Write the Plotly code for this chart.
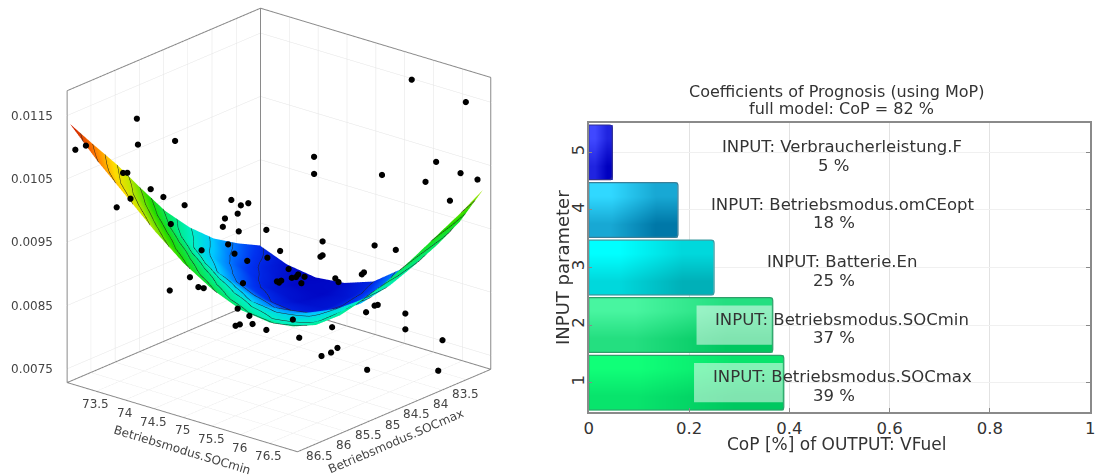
import plotly.graph_objects as go

# ---- surface ----
soc_min_grid = [73.03, 73.5, 74.0, 74.5, 75.0, 75.5, 76.0, 76.5, 76.9]
soc_max_grid = [83.05, 83.5, 84.0, 84.5, 85.0, 85.5, 86.0, 86.5, 86.97]
# units 1e-5; each row is one SOCmax value, columns follow SOCmin
vfuel_row_83 = [817, 800, 793, 798, 814, 848, 896, 950, 1011]
vfuel_row_835 = [835, 810, 796, 795, 805, 833, 877, 929, 990]
vfuel_row_84 = [859, 827, 807, 799, 803, 825, 862, 911, 970]
vfuel_row_845 = [893, 855, 828, 813, 809, 824, 854, 896, 950]
vfuel_row_85 = [935, 892, 860, 845, 835, 842, 862, 892, 932]
vfuel_row_855 = [987, 942, 905, 878, 860, 857, 866, 887, 918]
vfuel_row_86 = [1041, 993, 953, 920, 895, 881, 878, 888, 909]
vfuel_row_865 = [1090, 1042, 1001, 962, 930, 908, 896, 897, 910]
vfuel_row_87 = [1137, 1092, 1050, 1008, 971, 943, 924, 918, 923]

# ---- samples ----
pts_soc_min = [73.08,73.18,73.66,73.67,74.02,73.57,73.53,73.79,73.91,73.60,73.47,74.11,74.55,74.64,74.71,74.61,74.49,74.47,74.62,73.98,
               74.88,74.52,75.41,75.01,74.27,74.58,74.70,74.89,75.39,75.41,75.90,76.10,75.09,74.16,74.24,74.29,73.97,74.66,74.98,75.02,
               75.00,75.12,75.16,75.18,75.24,75.21,75.53,75.56,75.78,75.80,74.61,74.72,74.59,74.63,74.75,74.88,75.13,75.19,75.50,75.40,
               75.49,75.55,75.82,75.90,75.93,76.19,76.19,76.54,75.83,76.50,76.25,76.76,75.33,75.33,75.97,76.48,76.38,76.71,76.87,76.61]
pts_soc_max = [86.92,86.82,86.34,86.33,85.98,86.43,86.47,86.21,86.09,86.40,86.53,85.89,85.45,85.36,85.29,85.39,85.51,85.53,85.38,86.02,
               85.12,85.48,84.59,84.99,85.73,85.42,85.30,85.11,84.61,84.59,84.10,83.90,84.91,85.84,85.76,85.71,86.03,85.34,85.02,84.98,
               85.00,84.88,84.84,84.82,84.76,84.79,84.47,84.44,84.22,84.20,85.39,85.28,85.41,85.37,85.25,85.12,84.87,84.81,84.50,84.60,
               84.51,84.45,84.18,84.10,84.07,83.81,83.81,83.46,84.17,83.50,83.75,83.24,84.67,84.67,84.03,83.52,83.62,83.29,83.13,83.39]
pts_vfuel = [.01096,.01102,.01142,.01101,.01105,.01057,.01057,.01030,.01017,.01016,.01003,.01003,.01009,.01000,.01003,.00987,.00980,.00967,.00959,.00974,
             .00960,.00939,.00939,.00926,.00931,.00924,.00912,.00916,.00915,.00917,.00930,.00922,.00897,.00889,.00873,.00871,.00869,.00877,.00878,.00879,
             .00876,.00883,.00884,.00888,.00884,.00874,.00880,.00874,.00885,.00888,.00837,.00825,.00810,.00812,.00812,.00802,.00817,.00788,.00803,.00758,
             .00763,.00770,.00825,.00835,.00836,.00821,.00796,.00777,.00734,.00729,.01190,.01152,.01073,.01046,.01041,.01059,.01028,.01040,.01029,.00997]

# ---- axes ----
x_ticks = [83.5, 84, 84.5, 85, 85.5, 86, 86.5]
x_text = ["83.5", "84", "84.5", "85", "85.5", "86", "86.5"]
y_ticks = [73.5, 74, 74.5, 75, 75.5, 76, 76.5]
y_text = ["73.5", "74", "74.5", "75", "75.5", "76", "76.5"]
z_ticks = [0.0075, 0.0085, 0.0095, 0.0105, 0.0115]
z_text = ["0.0075", "0.0085", "0.0095", "0.0105", "0.0115"]
x_range = [83, 87]
y_range = [73, 77]
z_range = [0.00728, 0.0119]
x_title = "Betriebsmodus.SOCmax"
y_title = "Betriebsmodus.SOCmin"

# ---- CoP bars ----
bar_pos = [1, 2, 3, 4, 5]
bar_cop = [0.389, 0.367, 0.25, 0.178, 0.047]
bar_names = ["INPUT: Betriebsmodus.SOCmax", "INPUT: Betriebsmodus.SOCmin", "INPUT: Batterie.En",
             "INPUT: Betriebsmodus.omCEopt", "INPUT: Verbraucherleistung.F"]
bar_pct = ["39 %", "37 %", "25 %", "18 %", "5 %"]
bar_light = ["#10ff78", "#48f5a0", "#00ffff", "#30d8ff", "#4048ff"]
bar_dark = ["#00c860", "#00c860", "#00b0b8", "#0078a8", "#0000c0"]
bar_line = ["#2f9f6a", "#2f9f6a", "#3a9aa0", "#3a7f98", "#30308f"]
highlight_start = [0.21, 0.215]

fig = go.Figure()
jet = [[0, "rgb(0,0,190)"], [.086, "rgb(0,50,240)"], [.14, "rgb(0,120,255)"], [.2, "rgb(0,200,255)"],
       [.286, "rgb(0,240,200)"], [.37, "rgb(0,235,130)"], [.514, "rgb(30,220,0)"], [.657, "rgb(200,230,0)"],
       [.74, "rgb(255,220,0)"], [.857, "rgb(255,120,0)"], [1, "rgb(200,20,0)"]]
rows = [vfuel_row_83, vfuel_row_835, vfuel_row_84, vfuel_row_845, vfuel_row_85,
        vfuel_row_855, vfuel_row_86, vfuel_row_865, vfuel_row_87]
z_grid = [[v * 1e-5 for v in r] for r in rows]
fig.add_trace(go.Surface(
    x=soc_max_grid, y=soc_min_grid, z=[list(c) for c in zip(*z_grid)],
    colorscale=jet, cmin=0.0079, cmax=0.0114, showscale=False, scene="scene",
    lighting=dict(ambient=1, diffuse=0, specular=0, fresnel=0, roughness=1),
    contours=dict(z=dict(show=True, start=0.0079, end=0.0114, size=0.00025, color="#222222", width=1,
                         highlight=False),
                  x=dict(highlight=False), y=dict(highlight=False)),
    hoverinfo="skip"))

# box edges, a hair inside the axis range so they are not clipped
xa, xb = 83.004, 86.996
ya, yb = 73.004, 76.996
za, zb = 0.007285, 0.011895
edge_x = [xb, xa, xa, None, xb, xa, xa, xb, xb, None, xb, xb, None, xa, xa, None, xa, xa]
edge_y = [ya, ya, yb, None, ya, ya, yb, yb, ya, None, ya, ya, None, ya, ya, None, yb, yb]
edge_z = [zb, zb, zb, None, za, za, za, za, za, None, za, zb, None, za, zb, None, za, zb]
fig.add_trace(go.Scatter3d(x=edge_x, y=edge_y, z=edge_z, mode="lines", line=dict(color="#8a8a8a", width=2),
                           connectgaps=False, hoverinfo="skip", showlegend=False, scene="scene"))
# samples on overlay scene
fig.add_trace(go.Scatter3d(x=pts_soc_max, y=pts_soc_min, z=pts_vfuel, mode="markers",
                           marker=dict(color="black", size=3.6, line=dict(width=0)),
                           showlegend=False, scene="scene2", hoverinfo="skip"))

R = 2.0
camera = dict(eye=dict(x=.715 * R, y=.600 * R, z=.358 * R), center=dict(x=0, y=0, z=0), up=dict(x=0, y=0, z=1),
              projection=dict(type="orthographic"))
dom = dict(x=[0, 0.4955], y=[0.032, 1])
aspect = dict(x=1.31, y=1.31, z=1.362)
tf = dict(family="DejaVu Sans", size=12, color="#444444")
def ax(rng, vals):
    return dict(range=rng, autorange=False, tickmode="array", tickvals=vals, showticklabels=False,
                title=dict(text=""), showgrid=True, gridcolor="#e4e4e4", gridwidth=1,
                showbackground=False, zeroline=False, showline=False, ticks="", showspikes=False)
def hidden(rng):
    return dict(range=rng, autorange=False, visible=False, showspikes=False)

scene_notes = []
for v, t in zip(z_ticks, z_text):
    scene_notes.append(dict(x=x_range[1], y=y_range[0], z=v, text=t, showarrow=False, xanchor="right", xshift=-12, font=tf))
for v, t in zip(y_ticks, y_text):
    scene_notes.append(dict(x=x_range[1], y=v, z=z_range[0], text=t, showarrow=False, yshift=-13, font=tf))
for v, t in zip(x_ticks, x_text):
    scene_notes.append(dict(x=v, y=y_range[1], z=z_range[0], text=t, showarrow=False, xshift=-2, yshift=-14, font=tf))
scene_notes.append(dict(x=x_range[1], y=75, z=z_range[0], text=y_title, showarrow=False, textangle=16.8, yshift=-33, font=tf))
scene_notes.append(dict(x=85, y=y_range[1], z=z_range[0], text=x_title, showarrow=False, textangle=-23.2, xshift=2, yshift=-30, font=tf))

font2 = dict(family="DejaVu Sans", size=16.5, color="#333333")
fig.update_layout(
    width=1116, height=475, margin=dict(l=0, r=0, t=0, b=0), paper_bgcolor="white", plot_bgcolor="white",
    showlegend=False,
    scene=dict(domain=dom, camera=camera, aspectmode="manual", aspectratio=aspect,
               xaxis=ax(x_range, x_ticks), yaxis=ax(y_range, y_ticks), zaxis=ax(z_range, z_ticks),
               annotations=scene_notes),
    scene2=dict(domain=dom, camera=camera, aspectmode="manual", aspectratio=aspect,
                bgcolor="rgba(0,0,0,0)",
                xaxis=hidden(x_range), yaxis=hidden(y_range), zaxis=hidden(z_range)),
    xaxis=dict(domain=[589 / 1116, 1095 / 1116], range=[0, 1], tickvals=[0, .2, .4, .6, .8, 1],
               ticktext=["0", "0.2", "0.4", "0.6", "0.8", "1"], ticks="inside", ticklen=4, tickcolor="#888888",
               showgrid=True, gridcolor="#e2e2e2", showline=True, linecolor="#8a8a8a", linewidth=1.5, mirror=True,
               zeroline=False, tickfont=font2,
               anchor="y"),
    yaxis=dict(domain=[(475 - 412) / 475, (475 - 123) / 475], range=[0.49, 5.51], tickvals=bar_pos, tickangle=-90,
               ticks="inside", ticklen=4, tickcolor="#888888", showgrid=True, gridcolor="#f0f0f0",
               showline=True, linecolor="#8a8a8a", linewidth=1.5, mirror="allticks", zeroline=False,
               ticklabelstandoff=-4, tickfont=font2, anchor="x"),
)

for p, v, lo, hi, ln in zip(bar_pos, bar_cop, bar_dark, bar_light, bar_line):
    fig.add_trace(go.Heatmap(x=[0, v / 2, v], y=[p - .475, p, p + .475], z=[[.5, 0], [1, .5]], zmin=0, zmax=1,
                             zsmooth="best", colorscale=[[0, lo], [1, hi]], showscale=False, hoverinfo="skip",
                             xaxis="x", yaxis="y"))
fig.add_trace(go.Bar(y=bar_pos, x=bar_cop, orientation="h", width=0.95,
                     marker=dict(color="rgba(0,0,0,0)", line=dict(color=bar_line, width=1.2), cornerradius=3),
                     hoverinfo="skip", xaxis="x", yaxis="y"))

for p, v, s in zip(bar_pos[:2], bar_cop[:2], highlight_start):
    fig.add_shape(type="rect", xref="x", yref="y", x0=s, x1=v - .002, y0=p - .34, y1=p + .34,
                  fillcolor="rgba(255,255,255,0.5)", line=dict(width=0), layer="above")

for p, name, pct in zip(bar_pos, bar_names, bar_pct):
    fig.add_annotation(x=.506, y=p + .1, xref="x", yref="y", text=name, showarrow=False, xanchor="center", font=font2)
    fig.add_annotation(x=.489, y=p - .22, xref="x", yref="y", text=pct, showarrow=False, xanchor="center", font=font2)

fig.add_annotation(xref="paper", yref="paper", x=839 / 1116, y=1 - 91 / 475, text="Coefficients of Prognosis (using MoP)",
                   showarrow=False, xanchor="center", yanchor="middle", font=dict(family="DejaVu Sans", size=16, color="#333333"))
fig.add_annotation(xref="paper", yref="paper", x=844 / 1116, y=1 - 109 / 475, text="full model: CoP = 82 %",
                   showarrow=False, xanchor="center", yanchor="middle", font=dict(family="DejaVu Sans", size=16, color="#333333"))
fig.add_annotation(xref="paper", yref="paper", x=562 / 1116, y=1 - 267 / 475, text="INPUT parameter", textangle=-90,
                   showarrow=False, xanchor="center", yanchor="middle", font=dict(family="DejaVu Sans", size=18, color="#333333"))
fig.add_annotation(xref="paper", yref="paper", x=840 / 1116, y=1 - 444 / 475, text="CoP [%] of OUTPUT: VFuel",
                   showarrow=False, xanchor="center", yanchor="middle", font=dict(family="DejaVu Sans", size=17, color="#333333"))

fig.write_html("out.html", config=dict(displayModeBar=False),
               post_script="document.body.style.margin='0';document.body.style.overflow='hidden';")
